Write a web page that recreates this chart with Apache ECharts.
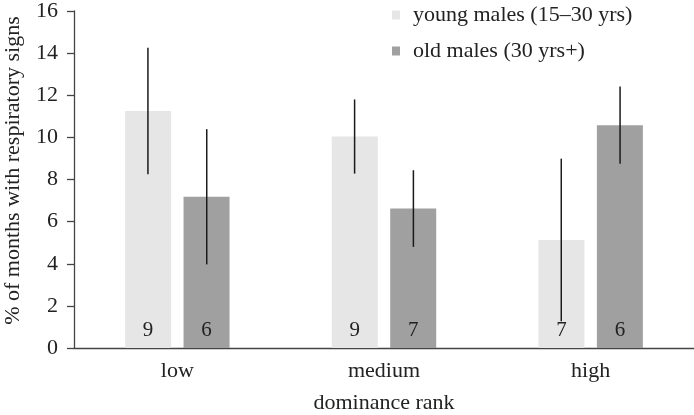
<!DOCTYPE html>
<html><head><meta charset="utf-8">
<script src="https://cdn.jsdelivr.net/npm/echarts@6/dist/echarts.min.js"></script>
<style>html,body{margin:0;padding:0;background:#fff}#c{width:694px;height:415px}</style>
</head><body><div id="c"></div>
<script>
const categories = ['low', 'medium', 'high'];
const seriesNames = ['young males (15\u201330 yrs)', 'old males (30 yrs+)'];
const youngMeans = [11.25, 10.04, 5.13];
const youngErr = [3.0, 1.76, 3.86];
const oldMeans = [7.18, 6.62, 10.58];
const oldErr = [3.21, 1.82, 1.83];
const youngN = [9, 9, 7];
const oldN = [6, 7, 6];
const yTicks = [0, 2, 4, 6, 8, 10, 12, 14, 16];

const FONT = 'Liberation Serif';
const BAR_W = 46;
const BAR_OFF = 29.4;

function errSeries(means, errs, sign) {
  return {
    type: 'custom',
    silent: true,
    z: 5,
    data: means.map((m, i) => [i, m - errs[i], m + errs[i]]),
    renderItem: function (params, api) {
      const lo = api.coord([api.value(0), api.value(1)]);
      const hi = api.coord([api.value(0), api.value(2)]);
      const x = lo[0] + sign * BAR_OFF;
      return {
        type: 'line',
        shape: { x1: x, y1: lo[1], x2: x, y2: hi[1] },
        style: { stroke: '#1a1a1a', lineWidth: 1.5 }
      };
    }
  };
}

const chart = echarts.init(document.getElementById('c'), null, { renderer: 'canvas' });
chart.setOption({
  animation: false,
  backgroundColor: '#fff',
  textStyle: { fontFamily: FONT },
  grid: { left: 74, right: 0, top: 11, bottom: 67, containLabel: false, outerBoundsMode: 'none' },
  legend: {
    orient: 'vertical', left: 392, top: 4, itemGap: 14, padding: 0,
    icon: 'rect', itemWidth: 8, itemHeight: 9,
    textStyle: { fontFamily: FONT, fontSize: 22, color: '#222', padding: [0, 0, 0, 8] },
    data: seriesNames
  },
  xAxis: {
    type: 'category',
    data: categories,
    name: 'dominance rank',
    nameLocation: 'middle',
    nameGap: 44,
    nameTextStyle: { fontFamily: FONT, fontSize: 22, color: '#222' },
    axisLine: { lineStyle: { color: '#444', width: 1.3 } },
    axisTick: { show: false },
    axisLabel: { fontFamily: FONT, fontSize: 22, color: '#222', margin: 12 }
  },
  yAxis: {
    type: 'value',
    min: yTicks[0], max: yTicks[yTicks.length - 1], interval: yTicks[1] - yTicks[0],
    name: '% of months with respiratory signs',
    nameLocation: 'middle',
    nameGap: 50,
    nameTextStyle: { fontFamily: FONT, fontSize: 22, color: '#222', padding: [0, 0, 0, 18] },
    axisLine: { show: true, lineStyle: { color: '#444', width: 1.3 } },
    axisTick: { show: true, length: 7, lineStyle: { color: '#444', width: 1.3 } },
    axisLabel: { fontFamily: FONT, fontSize: 22, color: '#222', margin: 16 },
    splitLine: { show: false }
  },
  series: [
    {
      name: seriesNames[0], type: 'bar', data: youngMeans,
      barWidth: BAR_W, barGap: '27%',
      itemStyle: { color: '#e6e6e6' },
      label: {
        show: true, position: 'insideBottom', distance: 7,
        fontFamily: FONT, fontSize: 21, color: '#222',
        formatter: p => String(youngN[p.dataIndex])
      }
    },
    {
      name: seriesNames[1], type: 'bar', data: oldMeans,
      barWidth: BAR_W, barGap: '27%',
      itemStyle: { color: '#a0a0a0' },
      label: {
        show: true, position: 'insideBottom', distance: 7,
        fontFamily: FONT, fontSize: 21, color: '#222',
        formatter: p => String(oldN[p.dataIndex])
      }
    },
    errSeries(youngMeans, youngErr, -1),
    errSeries(oldMeans, oldErr, 1)
  ]
});
</script></body></html>
